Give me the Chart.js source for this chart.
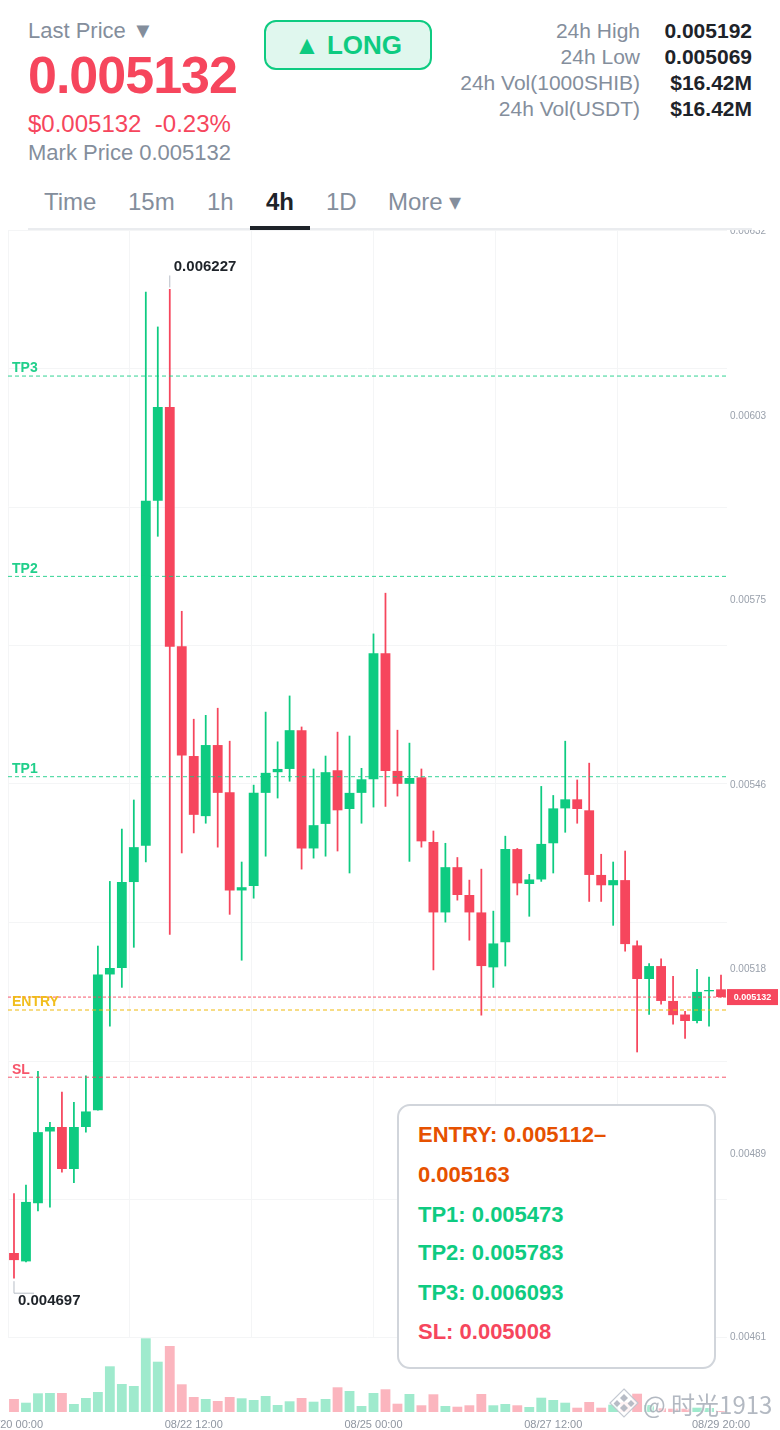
<!DOCTYPE html>
<html>
<head>
<meta charset="utf-8">
<script src="https://cdn.jsdelivr.net/npm/chart.js@4"></script>
<style>
  html,body{margin:0;padding:0;background:#fff;}
  body{width:780px;height:1430px;position:relative;overflow:hidden;font-family:"Liberation Sans",Arial,sans-serif;}
  .abs{position:absolute;white-space:nowrap;line-height:1;}
  .gray{color:#848e9c;}
  .red{color:#f6465d;}
  .green{color:#0ecb81;}
  .dark{color:#1e2329;}
  #wrap{position:absolute;left:0;top:230px;width:780px;height:1200px;}
  .stat{right:140px;font-size:21px;color:#848e9c;}
  .val{right:28px;font-size:21px;font-weight:700;color:#1e2329;}
  .tab{top:190px;font-size:24px;color:#848e9c;}
  #box{position:absolute;left:397px;top:1104px;width:315px;height:261px;border:2px solid #d1d5db;border-radius:13px;background:#fff;}
  .bl{position:absolute;left:19px;font-size:22px;font-weight:700;white-space:nowrap;line-height:1;}
  .wm{position:absolute;color:rgba(132,142,156,.62);text-shadow:0 0 2px #fff,1px 1px 1px rgba(255,255,255,.8);white-space:nowrap;line-height:1;}
</style>
</head>
<body>
<div class="abs gray" style="left:28px;top:20px;font-size:22px;">Last Price ▼</div>
<div class="abs red" style="left:28px;top:49px;font-size:52px;font-weight:700;letter-spacing:-1px;">0.005132</div>
<div class="abs red" style="left:28px;top:112px;font-size:24px;white-space:pre;">$0.005132  -0.23%</div>
<div class="abs gray" style="left:28px;top:142px;font-size:22px;">Mark Price 0.005132</div>

<div class="abs" style="left:264px;top:20px;width:164px;height:46px;border:2px solid #0ecb81;border-radius:12px;background:#e0f7ee;"></div>
<div class="abs green" style="left:264px;top:32px;width:168px;text-align:center;font-size:26px;font-weight:700;">▲ LONG</div>

<div class="abs stat" style="top:20px;">24h High</div><div class="abs val" style="top:20px;">0.005192</div>
<div class="abs stat" style="top:46px;">24h Low</div><div class="abs val" style="top:46px;">0.005069</div>
<div class="abs stat" style="top:72px;">24h Vol(1000SHIB)</div><div class="abs val" style="top:72px;">$16.42M</div>
<div class="abs stat" style="top:98px;">24h Vol(USDT)</div><div class="abs val" style="top:98px;">$16.42M</div>

<div class="abs tab" style="left:44px;">Time</div>
<div class="abs tab" style="left:128px;">15m</div>
<div class="abs tab" style="left:207px;">1h</div>
<div class="abs tab dark" style="left:266px;font-weight:700;color:#1e2329;">4h</div>
<div class="abs tab" style="left:326px;">1D</div>
<div class="abs tab" style="left:388px;">More ▾</div>

<div id="wrap"><canvas id="c"></canvas></div>

<div class="abs" style="left:28px;top:228px;width:724px;height:2px;background:#eaecef;"></div>
<div class="abs" style="left:250px;top:226px;width:60px;height:4px;background:#1e2329;"></div>

<div id="box">
  <div class="bl" style="top:18px;color:#e65100;">ENTRY: 0.005112–</div>
  <div class="bl" style="top:58px;color:#e65100;">0.005163</div>
  <div class="bl green" style="top:98px;">TP1: 0.005473</div>
  <div class="bl green" style="top:136px;">TP2: 0.005783</div>
  <div class="bl green" style="top:176px;">TP3: 0.006093</div>
  <div class="bl red" style="top:215px;">SL: 0.005008</div>
</div>

<svg class="abs" style="left:608px;top:1387px;" width="32" height="32" viewBox="0 0 32 32">
  <path d="M16 2 L30 16 L16 30 L2 16 Z" fill="rgba(255,255,255,.85)" stroke="rgba(190,195,205,.9)" stroke-width="1.2"/>
  <path d="M16 7 L20 11 L16 15 L12 11 Z M9 13 L12.5 16.5 L9 20 L5.5 16.5 Z M23 13 L26.5 16.5 L23 20 L19.5 16.5 Z M16 17 L20 21 L16 25 L12 21 Z" fill="rgba(170,176,188,.85)"/>
</svg>
<div class="wm" style="left:643px;top:1392px;font-size:24px;font-family:'Noto Sans CJK SC','Liberation Sans',sans-serif;">@ 时光1913</div>

<script>
const labels = ["08/20 00:00","08/20 04:00","08/20 08:00","08/20 12:00","08/20 16:00","08/20 20:00",
"08/21 00:00","08/21 04:00","08/21 08:00","08/21 12:00","08/21 16:00","08/21 20:00",
"08/22 00:00","08/22 04:00","08/22 08:00","08/22 12:00","08/22 16:00","08/22 20:00",
"08/23 00:00","08/23 04:00","08/23 08:00","08/23 12:00","08/23 16:00","08/23 20:00",
"08/24 00:00","08/24 04:00","08/24 08:00","08/24 12:00","08/24 16:00","08/24 20:00",
"08/25 00:00","08/25 04:00","08/25 08:00","08/25 12:00","08/25 16:00","08/25 20:00",
"08/26 00:00","08/26 04:00","08/26 08:00","08/26 12:00","08/26 16:00","08/26 20:00",
"08/27 00:00","08/27 04:00","08/27 08:00","08/27 12:00","08/27 16:00","08/27 20:00",
"08/28 00:00","08/28 04:00","08/28 08:00","08/28 12:00","08/28 16:00","08/28 20:00",
"08/29 00:00","08/29 04:00","08/29 08:00","08/29 12:00","08/29 16:00","08/29 20:00"];
const shownTimeLabels = ["08/20 00:00","08/22 12:00","08/25 00:00","08/27 12:00","08/29 20:00"];

const opens = [0.004736,0.004723,0.004813,0.004924,0.004931,0.004866,0.004931,0.004957,0.005167,0.005177,
0.005310,0.005366,0.005900,0.006045,0.005675,0.005505,0.005412,0.005522,0.005449,0.005297,
0.005304,0.005448,0.005480,0.005485,0.005545,0.005362,0.005400,0.005483,0.005423,0.005448,
0.005469,0.005664,0.005482,0.005462,0.005472,0.005372,0.005263,0.005333,0.005290,0.005263,
0.005178,0.005217,0.005361,0.005307,0.005314,0.005370,0.005424,0.005438,0.005421,0.005321,
0.005305,0.005313,0.005212,0.005160,0.005180,0.005126,0.005105,0.005095,0.005141,0.005144];
const highs = [0.004828,0.004841,0.005017,0.004938,0.004985,0.004969,0.005010,0.005211,0.005311,0.005392,
0.005437,0.006223,0.006169,0.006227,0.005729,0.005562,0.005568,0.005579,0.005528,0.005341,
0.005460,0.005573,0.005527,0.005598,0.005550,0.005485,0.005505,0.005542,0.005536,0.005486,
0.005694,0.005757,0.005545,0.005525,0.005485,0.005389,0.005370,0.005348,0.005313,0.005330,
0.005265,0.005381,0.005362,0.005322,0.005458,0.005444,0.005528,0.005468,0.005494,0.005353,
0.005341,0.005358,0.005219,0.005184,0.005191,0.005164,0.005110,0.005175,0.005163,0.005166];
const lows = [0.004697,0.004722,0.004801,0.004807,0.004861,0.004845,0.004923,0.004957,0.005087,0.005147,
0.005209,0.005341,0.005845,0.005229,0.005355,0.005386,0.005401,0.005364,0.005260,0.005189,
0.005285,0.005350,0.005440,0.005466,0.005330,0.005347,0.005350,0.005358,0.005324,0.005401,
0.005426,0.005427,0.005443,0.005342,0.005364,0.005174,0.005248,0.005282,0.005220,0.005104,
0.005147,0.005180,0.005290,0.005257,0.005311,0.005324,0.005387,0.005401,0.005280,0.005280,
0.005243,0.005203,0.005047,0.005105,0.005121,0.005090,0.005068,0.005092,0.005087,0.005132];
const closes = [0.004725,0.004815,0.004923,0.004931,0.004866,0.004931,0.004955,0.005167,0.005177,0.005310,
0.005364,0.005900,0.006045,0.005674,0.005506,0.005414,0.005522,0.005448,0.005297,0.005302,
0.005448,0.005479,0.005485,0.005545,0.005362,0.005398,0.005480,0.005421,0.005448,0.005469,
0.005664,0.005482,0.005462,0.005471,0.005373,0.005263,0.005333,0.005290,0.005263,0.005180,
0.005215,0.005361,0.005308,0.005314,0.005369,0.005424,0.005438,0.005423,0.005321,0.005305,
0.005313,0.005214,0.005160,0.005180,0.005126,0.005104,0.005095,0.005140,0.005143,0.005132];
const volumes = [13,9.3,18.7,19,19,8,14,20,45.7,28,26,73.7,50.3,66,27.7,15,13,11,15,13.7,
12,16,7,10.7,14,10.3,13,24.7,21,6,19,22.7,8.3,18,6.7,17.7,6,5.3,6.7,18,
6.7,8,6.7,5,14.3,12,9.3,4.3,10,4.3,7.3,10,18.3,7,3.7,3.3,3.3,4.3,4,1];

const priceTicks = [0.0063175,0.0060315,0.0057465,0.0054605,0.0051752,0.0048895,0.0046051];
const gridPrices = [0.006319,0.006105,0.005891,0.005677,0.005463,0.005248,0.005033,0.004819,0.004606];
const gridCandles = [-0.5,9.62,19.78,29.96,40.11,50.29];
const priceMin = 0.004606, priceMax = 0.006319;

const tp1 = 0.005473, tp2 = 0.005783, tp3 = 0.006093, entryLow = 0.005112, stopLoss = 0.005008, lastPrice = 0.005132;
const highMark = 0.006227, lowMark = 0.004697;

const UP = '#0ecb81', DOWN = '#f6465d';
const isUp = closes.map((c,i)=>c>=opens[i]);
const candleColors = isUp.map(u=>u?UP:DOWN);
const volColors = isUp.map(u=>u?'rgba(14,203,129,.4)':'rgba(246,70,93,.4)');
const bodyData = opens.map((o,i)=>[Math.min(o,closes[i]),Math.max(o,closes[i])]);
const wickData = lows.map((l,i)=>[l,highs[i]]);

function level(price,color,dash,order){
  return {type:'line',label:'level',xAxisID:'xLevel',yAxisID:'y',order:order||0,
    data:[{x:-0.5,y:price},{x:59.5,y:price}],borderColor:color,borderWidth:1,borderDash:dash,
    pointRadius:0,fill:false,tension:0,parsing:{xAxisKey:'x',yAxisKey:'y'}};
}

const levelLabels = [
  {text:'TP3',price:tp3,color:'#0ecb81'},
  {text:'TP2',price:tp2,color:'#0ecb81'},
  {text:'TP1',price:tp1,color:'#0ecb81'},
  {text:'ENTRY',price:entryLow,color:'#f0b90b'},
  {text:'SL',price:stopLoss,color:'#f6465d'}
];

const gridPlugin = {
  id:'priceGrid',
  beforeDatasetsDraw(chart){
    const {ctx,scales:{y,xLevel}} = chart;
    ctx.save();
    ctx.strokeStyle='#f4f5f6';
    ctx.lineWidth=1;
    gridPrices.forEach(p=>{
      const py=Math.round(y.getPixelForValue(p))+0.5;
      ctx.beginPath();ctx.moveTo(xLevel.left,py);ctx.lineTo(xLevel.right,py);ctx.stroke();
    });
    gridCandles.forEach(v=>{
      const px=Math.round(xLevel.getPixelForValue(v))+0.5;
      ctx.beginPath();ctx.moveTo(px,y.top);ctx.lineTo(px,y.bottom);ctx.stroke();
    });
    ctx.restore();
  }
};

const annotatePlugin = {
  id:'annotate',
  afterDraw(chart){
    const {ctx,scales:{x,y,xLevel}} = chart;
    ctx.save();
    ctx.textBaseline='middle';
    ctx.textAlign='left';
    ctx.font='bold 14px "Liberation Sans"';
    levelLabels.forEach(l=>{
      ctx.fillStyle=l.color;
      ctx.globalAlpha=.92;
      ctx.fillText(l.text,xLevel.left+4,y.getPixelForValue(l.price)-7.5);
    });
    ctx.globalAlpha=1;
    // high marker
    const hi=highs.indexOf(highMark), hx=x.getPixelForValue(hi), hy=y.getPixelForValue(highMark);
    ctx.strokeStyle='#b7bdc6';ctx.lineWidth=1;
    ctx.beginPath();ctx.moveTo(hx,hy-2);ctx.lineTo(hx,hy-14);ctx.stroke();
    ctx.fillStyle='#1e2329';ctx.font='bold 15px "Liberation Sans"';
    ctx.fillText(highMark.toFixed(6),hx+4,hy-23);
    // low marker
    const li=lows.indexOf(lowMark), lx=x.getPixelForValue(li), ly=y.getPixelForValue(lowMark);
    ctx.beginPath();ctx.moveTo(lx,ly+3);ctx.lineTo(lx,ly+15);ctx.lineTo(lx+20,ly+15);ctx.stroke();
    ctx.fillText(lowMark.toFixed(6),lx+4,ly+23);
    // last price tag
    const ty=y.getPixelForValue(lastPrice);
    ctx.fillStyle=DOWN;
    ctx.fillRect(xLevel.right,ty-8,51,16);
    ctx.fillStyle='#fff';ctx.font='bold 9px "Liberation Sans"';ctx.textAlign='center';
    ctx.fillText(lastPrice.toFixed(6),xLevel.right+25.5,ty+0.5);
    ctx.restore();
  }
};

new Chart(document.getElementById('c'),{
  type:'bar',
  data:{
    labels,
    datasets:[
      {label:'volume',data:volumes,yAxisID:'yVol',xAxisID:'x',backgroundColor:volColors,categoryPercentage:1,barPercentage:.82,grouped:false,order:4},
      {label:'wick',data:wickData,yAxisID:'y',xAxisID:'x',backgroundColor:candleColors,barThickness:1.1,grouped:false,order:3},
      {label:'body',data:bodyData,yAxisID:'y',xAxisID:'x',backgroundColor:candleColors,categoryPercentage:1,barPercentage:.82,grouped:false,order:2},
      level(tp3,'rgba(14,203,129,.85)',[4,3]),
      level(tp2,'rgba(14,203,129,.85)',[4,3]),
      level(tp1,'rgba(14,203,129,.85)',[4,3]),
      level(entryLow,'#f0b90b',[4,3]),
      level(stopLoss,'rgba(246,70,93,.9)',[4,3]),
      level(lastPrice,'rgba(246,70,93,.9)',[3,2])
    ]
  },
  options:{
    responsive:true,maintainAspectRatio:false,animation:false,
    events:[],
    layout:{padding:{left:8,right:0,top:0,bottom:0}},
    plugins:{legend:{display:false},tooltip:{enabled:false}},
    scales:{
      x:{type:'category',position:'bottom',offset:true,
        grid:{display:false,drawTicks:false},border:{display:false},
        afterFit(s){s.height=18;s.paddingLeft=0;s.paddingRight=0;},
        ticks:{autoSkip:false,maxRotation:0,minRotation:0,padding:6,color:'#8f96a1',
          font:{family:'"Liberation Sans"',size:11},
          callback(v){const t=this.getLabelForValue(v);return shownTimeLabels.includes(t)?t:'';}}
      },
      xLevel:{type:'linear',display:false,offset:false,min:-0.5,max:59.5},
      y:{type:'linear',position:'right',stack:'panes',stackWeight:1107,weight:0,min:priceMin,max:priceMax,
        grid:{display:false,drawTicks:false},border:{display:false},
        afterBuildTicks(s){s.ticks=priceTicks.map(value=>({value}));},
        afterFit(s){s.width=53;s.paddingTop=0;s.paddingBottom=0;},
        ticks:{padding:3,color:'#9aa1ac',font:{family:'"Liberation Sans"',size:10},callback(v){return v.toFixed(5);}}
      },
      yVol:{type:'linear',position:'right',stack:'panes',stackWeight:75,weight:1,min:0,max:75,
        grid:{display:false,drawTicks:false},border:{display:false},
        afterFit(s){s.width=53;s.paddingTop=0;s.paddingBottom=0;},
        ticks:{display:false}
      }
    }
  },
  plugins:[gridPlugin,annotatePlugin]
});
</script>
</body>
</html>
